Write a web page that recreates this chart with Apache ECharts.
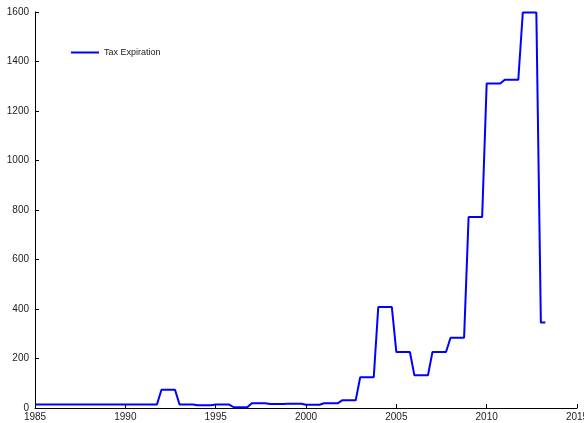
<!DOCTYPE html>
<html>
<head>
<meta charset="utf-8">
<script src="https://cdn.jsdelivr.net/npm/echarts@6/dist/echarts.min.js"></script>
<style>
    html, body { margin: 0; padding: 0; background: #fff; }
    #chart { width: 584px; height: 423px; }
</style>
</head>
<body>
<div id="chart"></div>
<script>
// yearly values, each held for the quarters of its year
var years = [1985, 1986, 1987, 1988, 1989, 1990, 1991, 1992, 1993, 1994,
    1995, 1996, 1997, 1998, 1999, 2000, 2001, 2002, 2003, 2004,
    2005, 2006, 2007, 2008, 2009, 2010, 2011, 2012, 2013];
var taxExpiration = [14, 14, 14, 14, 14, 14, 14, 74, 14, 11,
    14, 3, 19, 16, 17, 13, 19, 31, 124, 408,
    226, 132, 226, 284, 772, 1311, 1326, 1598, 345];
// last quarter held in each year (2013 series stops after Q2)
var lastQuarter = [];
for (var i = 0; i < years.length; i++) {
    lastQuarter.push(years[i] === 2013 ? 0.25 : 0.75);
}
var xTicks = [1985, 1990, 1995, 2000, 2005, 2010, 2015];
var yTicks = [0, 200, 400, 600, 800, 1000, 1200, 1400, 1600];

var points = [];
years.forEach(function(y, i) {
    points.push([y, taxExpiration[i]]);
    points.push([y + lastQuarter[i], taxExpiration[i]]);
});

var chart = echarts.init(document.getElementById('chart'));
var axisText = { color: '#222', fontSize: 10, fontFamily: 'Liberation Sans, Arial, sans-serif' };
var plain = function(v) { return String(v); };

chart.setOption({
    animation: false,
    grid: { left: 35, right: 7, top: 12, bottom: 15, containLabel: false, outerBoundsMode: 'none' },
    legend: {
        left: 66,
        top: 43,
        icon: 'rect',
        itemWidth: 28,
        itemHeight: 2,
        itemGap: 4,
        textStyle: { color: '#222', fontSize: 9, fontFamily: 'Liberation Sans, Arial, sans-serif' },
        data: ['Tax Expiration']
    },
    xAxis: {
        type: 'value',
        min: xTicks[0],
        max: xTicks[xTicks.length - 1],
        interval: 5,
        axisLine: { show: true, lineStyle: { color: '#000', width: 1 } },
        axisTick: { show: true, inside: true, length: 4, lineStyle: { color: '#000' } },
        axisLabel: Object.assign({ margin: 4, showMaxLabel: true, showMinLabel: true, formatter: plain }, axisText),
        splitLine: { show: false }
    },
    yAxis: {
        type: 'value',
        min: yTicks[0],
        max: yTicks[yTicks.length - 1],
        interval: 200,
        axisLine: { show: true, lineStyle: { color: '#000', width: 1 } },
        axisTick: { show: true, inside: true, length: 4, lineStyle: { color: '#000' } },
        axisLabel: Object.assign({ margin: 6, formatter: plain }, axisText),
        splitLine: { show: false }
    },
    series: [{
        name: 'Tax Expiration',
        type: 'line',
        data: points,
        showSymbol: false,
        symbol: 'none',
        clip: false,
        itemStyle: { color: '#0000ff' },
        lineStyle: { color: '#0000ff', width: 2 }
    }]
});
</script>
</body>
</html>
